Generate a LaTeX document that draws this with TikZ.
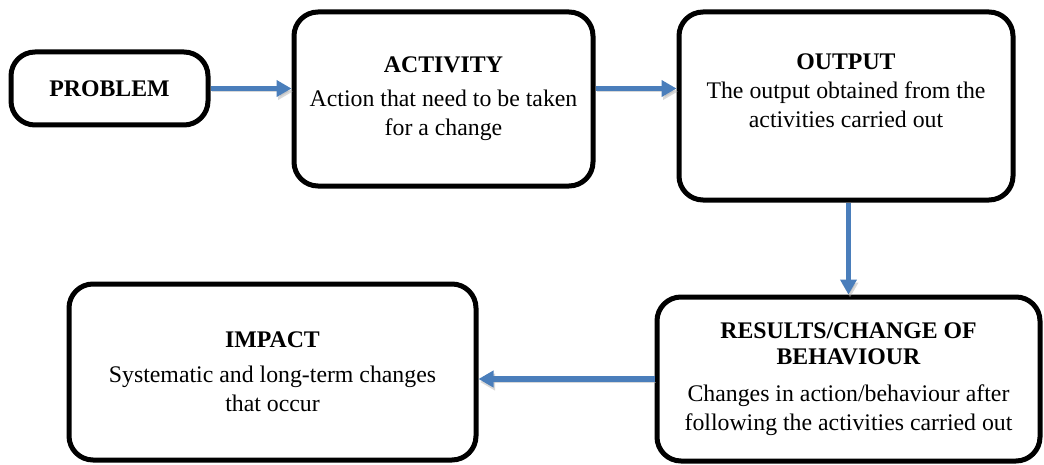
\documentclass[tikz,border=0pt]{standalone}
\usepackage{fontspec}
\setmainfont{Liberation Serif}
\usetikzlibrary{arrows.meta}
\definecolor{flowblue}{RGB}{74,126,187}
\begin{document}
\begin{tikzpicture}[x=0.5pt,y=-0.5pt,
    box/.style={draw,line width=2.5pt,rounded corners=12pt,align=center,inner sep=0pt,
      font=\fontsize{11.9}{14.5}\selectfont},
    boxtext/.style={align=center,inner sep=0pt,font=\fontsize{11.9}{14.5}\selectfont},
    flow/.style={draw=flowblue,line width=2.75pt,-{Triangle[length=7.5pt,width=8pt]},
      preaction={draw=black!30,opacity=0.5,transform canvas={shift={(0.75pt,-1.5pt)}}}}]
    \useasboundingbox (0,0) rectangle (1044,465);
    % top row
    \node[box,minimum width=98.5pt,minimum height=36.5pt] (prob) at (109.5,88.5) {\textbf{PROBLEM}};
    \node[box,minimum width=149.5pt,minimum height=87pt] (act) at (443.5,99)
        {\textbf{ACTIVITY}\\[2.5pt]Action that need to be taken\\for a change};
    \node[box,minimum width=167pt,minimum height=94pt] (out) at (846,106) {};
    \node[boxtext] (outtxt) at (846,91)
        {\textbf{OUTPUT}\\The output obtained from the\\activities carried out};
    % bottom row
    \node[box,minimum width=191.5pt,minimum height=82pt] (res) at (848.5,379)
        {\textbf{RESULTS/CHANGE OF}\\[-1.5pt]\textbf{BEHAVIOUR}\\[4pt]Changes in action/behaviour after\\following the activities carried out};
    \node[box,minimum width=203.5pt,minimum height=88pt] (imp) at (272.5,372)
        {\textbf{IMPACT}\\[3pt]Systematic and long-term changes\\that occur};
    % arrows
    \draw[flow] (prob.east) -- (prob.east -| act.west);
    \draw[flow] (act.east |- prob.east) -- (out.west |- prob.east);
    \draw[flow] (res.north |- out.south) -- (res.north);
    \draw[flow] (res.west) -- (res.west -| imp.east);
\end{tikzpicture}
\end{document}
